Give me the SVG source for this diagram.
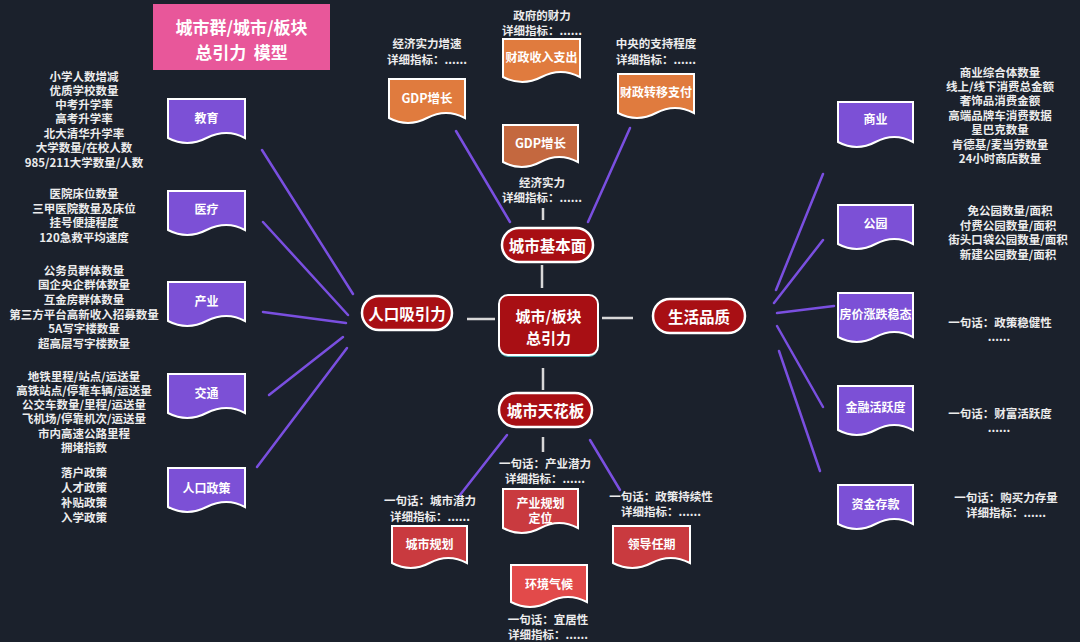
<svg xmlns="http://www.w3.org/2000/svg" width="1080" height="642" viewBox="0 0 1080 642">
<style>
text{font-family:"Noto Sans CJK SC","Liberation Sans",sans-serif;fill:#ffffff;text-anchor:middle;dominant-baseline:central;font-weight:700}
.lst{font-size:11.5px;fill:#ececec}
.lbl{font-size:12px}
.big{font-size:15.5px}
.doc{stroke:#ffffff;stroke-width:2}
.pur{fill:#7c50d6}
.org{fill:#e07b3e}
.org2{fill:#c4683f}
.red{fill:#c93a3f}
.red2{fill:#e24a4a}
.oval{fill:#a80f14;stroke:#ffffff;stroke-width:2.5}
.pl{stroke:#7a4fe0;stroke-width:2.5;fill:none;stroke-linecap:round}
.wl{stroke:#d8d8d8;stroke-width:2.5;fill:none}
</style>
<rect width="1080" height="642" fill="#1b212c"/>

<g id="title">
<rect x="153" y="4" width="177" height="66" fill="#e8579a"/>
<text x="241.5" y="26" style="font-size:17px">城市群/城市/板块</text>
<text x="241.5" y="51" style="font-size:17px" xml:space="preserve">总引力  模型</text>
</g>

<g id="connectors">
<line class="pl" x1="262" y1="150" x2="353" y2="294"/>
<line class="pl" x1="263" y1="222" x2="348" y2="315"/>
<line class="pl" x1="263" y1="312" x2="346" y2="323"/>
<line class="pl" x1="269" y1="395" x2="343" y2="337"/>
<line class="pl" x1="257" y1="467" x2="347" y2="348"/>
<line class="pl" x1="823" y1="174" x2="776" y2="290"/>
<line class="pl" x1="823" y1="240" x2="774" y2="303"/>
<line class="pl" x1="777" y1="313" x2="834" y2="306"/>
<line class="pl" x1="777" y1="326" x2="823" y2="407"/>
<line class="pl" x1="779" y1="351" x2="820" y2="471"/>
<line class="pl" x1="456" y1="131" x2="510" y2="222"/>
<line class="pl" x1="630" y1="128" x2="588" y2="222"/>
<line class="pl" x1="507" y1="435" x2="460" y2="495"/>
<line class="pl" x1="590" y1="440" x2="620" y2="490"/>
<line class="wl" x1="467" y1="319" x2="495" y2="319"/>
<line class="wl" x1="602" y1="318" x2="633" y2="318"/>
<line class="wl" x1="542" y1="265" x2="542" y2="288"/>
<line class="wl" x1="543" y1="368" x2="543" y2="390"/>
<line class="wl" x1="543" y1="437" x2="543" y2="452"/>
<line class="wl" x1="543" y1="208" x2="543" y2="220"/>
</g>

<g id="center">
<rect x="499" y="297" width="99" height="60" rx="9" fill="#4fb0b5"/>
<rect x="499" y="295" width="99" height="60" rx="9" fill="#a80f14" stroke="#ffffff" stroke-width="2"/>
<text x="548.5" y="315" style="font-size:15px">城市/板块</text>
<text x="548.5" y="337" style="font-size:15px">总引力</text>
</g>
<g id="n-renkou"><rect class="oval" x="362" y="296" width="90" height="34" rx="17"/><text class="big" x="407" y="313">人口吸引力</text></g>
<g id="n-jibenmian"><rect class="oval" x="502" y="228" width="91" height="34" rx="17"/><text class="big" x="547.5" y="245">城市基本面</text></g>
<g id="n-shenghuo"><rect class="oval" x="653" y="299" width="92" height="34" rx="17"/><text class="big" x="699" y="316">生活品质</text></g>
<g id="n-tianhuaban"><rect class="oval" x="499" y="393" width="93" height="34" rx="17"/><text class="big" x="545.5" y="410">城市天花板</text></g>

<g id="n-jiaoyu">
<path class="doc pur" d="M168,99 H245 V138 Q226.75,128 206.5,138 Q187.25,148 168,138 Z"/>
<text class="lbl" x="206.5" y="117">教育</text>
<text class="lst" x="84" y="76">小学人数增减</text>
<text class="lst" x="84" y="90">优质学校数量</text>
<text class="lst" x="84" y="104">中考升学率</text>
<text class="lst" x="84" y="118">高考升学率</text>
<text class="lst" x="84" y="133">北大清华升学率</text>
<text class="lst" x="84" y="147">大学数量/在校人数</text>
<text class="lst" x="84" y="162">985/211大学数量/人数</text>
</g>
<g id="n-yiliao">
<path class="doc pur" d="M168,191 H245 V230 Q226.75,220 206.5,230 Q187.25,240 168,230 Z"/>
<text class="lbl" x="206.5" y="208">医疗</text>
<text class="lst" x="84" y="193">医院床位数量</text>
<text class="lst" x="84" y="208">三甲医院数量及床位</text>
<text class="lst" x="84" y="222">挂号便捷程度</text>
<text class="lst" x="84" y="237">120急救平均速度</text>
</g>
<g id="n-chanye">
<path class="doc pur" d="M168,282 H245 V321 Q226.75,311 206.5,321 Q187.25,331 168,321 Z"/>
<text class="lbl" x="206.5" y="300">产业</text>
<text class="lst" x="84" y="270">公务员群体数量</text>
<text class="lst" x="84" y="284">国企央企群体数量</text>
<text class="lst" x="84" y="299">互金房群体数量</text>
<text class="lst" x="84" y="314">第三方平台高新收入招募数量</text>
<text class="lst" x="84" y="328">5A写字楼数量</text>
<text class="lst" x="84" y="343">超高层写字楼数量</text>
</g>
<g id="n-jiaotong">
<path class="doc pur" d="M168,374 H245 V413 Q226.75,403 206.5,413 Q187.25,423 168,413 Z"/>
<text class="lbl" x="206.5" y="392">交通</text>
<text class="lst" x="84" y="376">地铁里程/站点/运送量</text>
<text class="lst" x="84" y="390">高铁站点/停靠车辆/运送量</text>
<text class="lst" x="84" y="404">公交车数量/里程/运送量</text>
<text class="lst" x="84" y="418">飞机场/停靠机次/运送量</text>
<text class="lst" x="84" y="433">市内高速公路里程</text>
<text class="lst" x="84" y="447">拥堵指数</text>
</g>
<g id="n-renkouzhengce">
<path class="doc pur" d="M168,468 H245 V507 Q226.75,497 206.5,507 Q187.25,517 168,507 Z"/>
<text class="lbl" x="206.5" y="487">人口政策</text>
<text class="lst" x="84" y="472">落户政策</text>
<text class="lst" x="84" y="487">人才政策</text>
<text class="lst" x="84" y="502">补贴政策</text>
<text class="lst" x="84" y="517">入学政策</text>
</g>

<g id="n-caizheng">
<text class="lst" x="542" y="15">政府的财力</text>
<text class="lst" x="542" y="30">详细指标：......</text>
<path class="doc org" d="M503,39 H580 V77 Q560.75,67 541.5,77 Q522.25,87 503,77 Z"/>
<text class="lbl" x="541.5" y="56">财政收入支出</text>
</g>
<g id="n-gdp1">
<text class="lst" x="427" y="43">经济实力增速</text>
<text class="lst" x="427" y="59">详细指标：......</text>
<path class="doc org" d="M389,79 H465 V118 Q446,108 427,118 Q408,128 389,118 Z"/>
<text class="lbl" x="427" y="97" style="font-size:12.5px">GDP增长</text>
</g>
<g id="n-zhuanyi">
<text class="lst" x="656" y="43">中央的支持程度</text>
<text class="lst" x="656" y="59">详细指标：......</text>
<path class="doc org" d="M618,74 H694 V113 Q675,103 656,113 Q637,123 618,113 Z"/>
<text class="lbl" x="656" y="91">财政转移支付</text>
</g>
<g id="n-gdp2">
<path class="doc org2" d="M503,125 H578 V162 Q559.25,152 540.5,162 Q521.75,172 503,162 Z"/>
<text class="lbl" x="540.5" y="142" style="font-size:12.5px">GDP增长</text>
<text class="lst" x="542" y="182">经济实力</text>
<text class="lst" x="542" y="197">详细指标：......</text>
</g>

<g id="n-chanyeguihua">
<text class="lst" x="545" y="463">一句话：产业潜力</text>
<text class="lst" x="545" y="478">详细指标：......</text>
<path class="doc red" d="M503,489 H578 V528 Q559.25,518 540.5,528 Q521.75,538 503,528 Z"/>
<text class="lbl" x="540.5" y="502">产业规划</text>
<text class="lbl" x="540.5" y="517">定位</text>
</g>
<g id="n-chengshiguihua">
<text class="lst" x="430" y="500">一句话：城市潜力</text>
<text class="lst" x="430" y="516">详细指标：......</text>
<path class="doc red" d="M392,526 H467 V563 Q448.25,553 429.5,563 Q410.75,573 392,563 Z"/>
<text class="lbl" x="429.5" y="543">城市规划</text>
</g>
<g id="n-lingdao">
<text class="lst" x="661" y="496">一句话：政策持续性</text>
<text class="lst" x="661" y="511">详细指标：......</text>
<path class="doc red" d="M613,526 H690 V563 Q670.75,553 651.5,563 Q632.25,573 613,563 Z"/>
<text class="lbl" x="651.5" y="543">领导任期</text>
</g>
<g id="n-huanjing">
<path class="doc red2" d="M511,565 H587 V602 Q568,592 549,602 Q530,612 511,602 Z"/>
<text class="lbl" x="549" y="583">环境气候</text>
<text class="lst" x="548" y="619">一句话：宜居性</text>
<text class="lst" x="548" y="634">详细指标：......</text>
</g>

<g id="n-shangye">
<path class="doc pur" d="M838,102 H913 V142 Q894.25,132 875.5,142 Q856.75,152 838,142 Z"/>
<text class="lbl" x="875.5" y="118">商业</text>
<text class="lst" x="1000" y="72">商业综合体数量</text>
<text class="lst" x="1000" y="86">线上/线下消费总金额</text>
<text class="lst" x="1000" y="100">奢饰品消费金额</text>
<text class="lst" x="1000" y="115">高端品牌车消费数据</text>
<text class="lst" x="1000" y="129">星巴克数量</text>
<text class="lst" x="1000" y="144">肯德基/麦当劳数量</text>
<text class="lst" x="1000" y="158">24小时商店数量</text>
</g>
<g id="n-gongyuan">
<path class="doc pur" d="M838,205 H913 V244 Q894.25,234 875.5,244 Q856.75,254 838,244 Z"/>
<text class="lbl" x="875.5" y="222">公园</text>
<text class="lst" x="1010" y="210">免公园数量/面积</text>
<text class="lst" x="1008" y="225">付费公园数量/面积</text>
<text class="lst" x="1008" y="239">街头口袋公园数量/面积</text>
<text class="lst" x="1008" y="254">新建公园数量/面积</text>
</g>
<g id="n-fangjia">
<path class="doc pur" d="M838,293 H913 V337 Q894.25,327 875.5,337 Q856.75,347 838,337 Z"/>
<text class="lbl" x="875.5" y="313">房价涨跌稳态</text>
<text class="lst" x="1000" y="322">一句话：政策稳健性</text>
<text class="lst" x="999" y="336">......</text>
</g>
<g id="n-jinrong">
<path class="doc pur" d="M838,386 H913 V430 Q894.25,420 875.5,430 Q856.75,440 838,430 Z"/>
<text class="lbl" x="875.5" y="406">金融活跃度</text>
<text class="lst" x="1000" y="413">一句话：财富活跃度</text>
<text class="lst" x="999" y="427">......</text>
</g>
<g id="n-zijin">
<path class="doc pur" d="M838,485 H913 V524 Q894.25,514 875.5,524 Q856.75,534 838,524 Z"/>
<text class="lbl" x="875.5" y="503">资金存款</text>
<text class="lst" x="1006" y="497">一句话：购买力存量</text>
<text class="lst" x="1006" y="512">详细指标：......</text>
</g>
</svg>
